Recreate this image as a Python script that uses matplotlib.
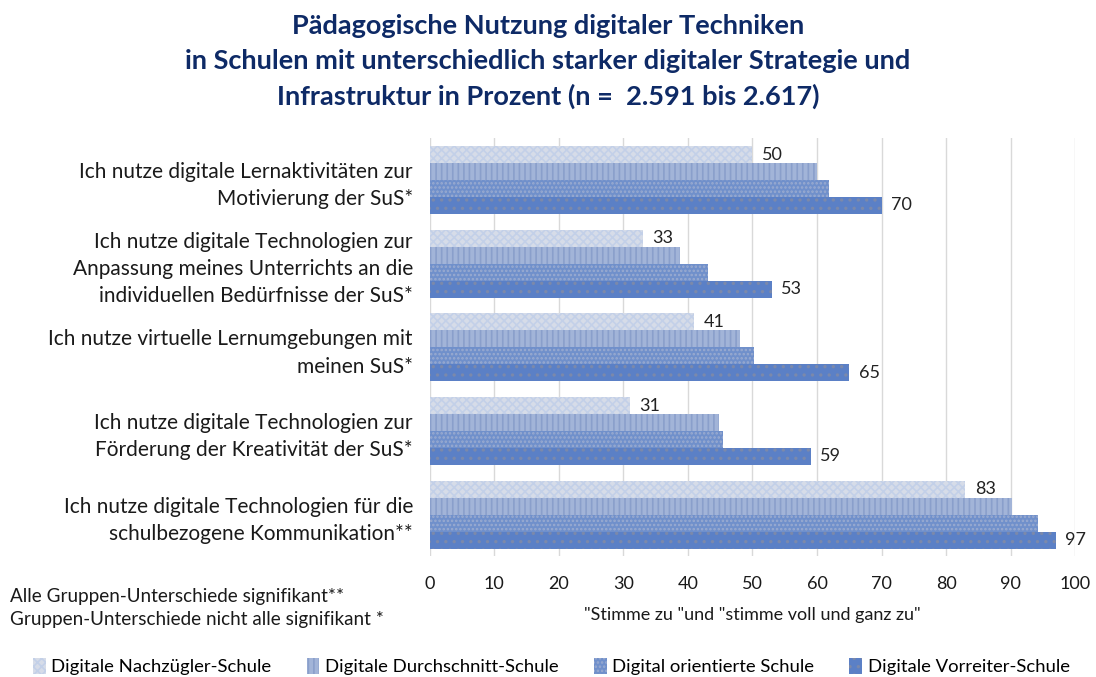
import matplotlib
matplotlib.use("Agg")
import matplotlib.pyplot as plt
import numpy as np

plt.rcParams['font.family'] = ['Lato', 'DejaVu Sans']
plt.rcParams['hatch.linewidth'] = 1.2

# categories (top to bottom)
statements = [
    "Ich nutze digitale Lernaktivitäten zur\nMotivierung der SuS*",
    "Ich nutze digitale Technologien zur\nAnpassung meines Unterrichts an die\nindividuellen Bedürfnisse der SuS*",
    "Ich nutze virtuelle Lernumgebungen mit\nmeinen SuS*",
    "Ich nutze digitale Technologien zur\nFörderung der Kreativität der SuS*",
    "Ich nutze digitale Technologien für die\nschulbezogene Kommunikation**",
]

series_names = ["Digitale Nachzügler-Schule", "Digitale Durchschnitt-Schule",
                "Digital orientierte Schule", "Digitale Vorreiter-Schule"]

nachzuegler = [50, 33, 41, 31, 83]
durchschnitt = [60.0, 38.8, 48.1, 44.9, 90.2]
orientiert = [61.9, 43.1, 50.3, 45.5, 94.2]
vorreiter = [70, 53, 65, 59, 97]

# look of each series: face colour, hatch colour, hatch pattern
styles = [
    ("#d6dce8", "#c3d0e8", "xxxx"),
    ("#a2b4d8", "#8a9fcb", "|||"),
    ("#7090cb", "#9aabd0", "...."),
    ("#5b80c6", "#7b89ab", ".."),
]

all_values = [nachzuegler, durchschnitt, orientiert, vorreiter]

fig = plt.figure(figsize=(10.96, 6.77), dpi=100)
ax = fig.add_axes([0.392, 0.178, 0.589, 0.618])

y = np.arange(len(statements))
bar_h = 0.2025

for j, (vals, (fc, hc, hatch)) in enumerate(zip(all_values, styles)):
    pos = y + (j - 1.5) * bar_h
    ax.barh(pos, vals, height=bar_h, color=fc, edgecolor=hc, hatch=hatch,
            linewidth=0, label=series_names[j], zorder=3)
    # only first and last series carry labels
    if j in (0, 3):
        for p, v in zip(pos, vals):
            ax.text(v + 1.5, p, f"{v:.0f}", va="center", ha="left",
                    fontsize=13, color="#222222")

ax.set_ylim(len(statements) - 0.5, -0.5)
ax.set_xlim(0, 100)
ax.set_xticks(np.arange(0, 101, 10))
ax.set_yticks(y)
ax.set_yticklabels(statements, fontsize=15, color="#1a1a1a", linespacing=1.45)
ax.tick_params(axis="both", length=0)
ax.tick_params(axis="y", pad=12)
ax.tick_params(axis="x", pad=14, labelsize=13, labelcolor="#1a1a1a")
for s in ax.spines.values():
    s.set_visible(False)
ax.grid(axis="x", color="#d9d9d9", linewidth=1, zorder=0)
ax.set_axisbelow(True)

ax.set_xlabel('"Stimme zu "und "stimme voll und ganz zu"', fontsize=13,
              color="#1a1a1a", labelpad=11)

fig.text(0.5, 0.909, "Pädagogische Nutzung digitaler Techniken\n"
         "in Schulen mit unterschiedlich starker digitaler Strategie und\n"
         "Infrastruktur in Prozent (n =  2.591 bis 2.617)",
         ha="center", va="center", fontsize=19.5, fontweight="bold",
         color="#0e2a66", linespacing=1.52)

fig.text(0.009, 0.102, "Alle Gruppen-Unterschiede signifikant**\n"
         "Gruppen-Unterschiede nicht alle signifikant *",
         ha="left", va="center", fontsize=13.6, color="#1a1a1a", linespacing=1.4)

fig.legend(loc="center", bbox_to_anchor=(0.503, 0.015), ncol=4, frameon=False,
           fontsize=13.3, handlelength=0.7, handleheight=0.9, handletextpad=0.3,
           columnspacing=1.9)

fig.savefig("out.png", dpi=100)
